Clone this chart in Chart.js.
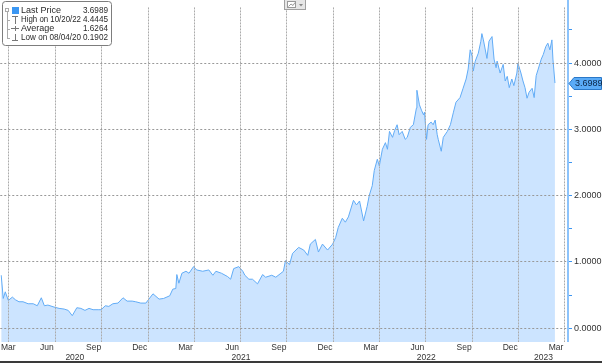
<!DOCTYPE html>
<html>
<head>
<meta charset="utf-8">
<script src="https://cdn.jsdelivr.net/npm/chart.js@4/dist/chart.umd.min.js"></script>
<style>
  html, body { margin: 0; padding: 0; background: #fff; }
</style>
</head>
<body>
<canvas id="chart" width="602" height="363"></canvas>
<script>
// --- Data ---
const dates = [
  '2020-03-17','2020-03-21','2020-03-25','2020-03-31','2020-04-08','2020-04-14','2020-04-21','2020-04-29',
  '2020-05-09','2020-05-19','2020-05-27','2020-06-04','2020-06-10','2020-06-17','2020-06-29','2020-07-09',
  '2020-07-19','2020-07-27','2020-08-04','2020-08-13','2020-08-21','2020-08-29','2020-09-06','2020-09-14',
  '2020-09-24','2020-09-30','2020-10-08','2020-10-15','2020-10-23','2020-11-02','2020-11-12','2020-11-20',
  '2020-11-30','2020-12-07','2020-12-17','2020-12-27','2021-01-02','2021-01-10','2021-01-22','2021-01-31',
  '2021-02-12','2021-02-18','2021-02-24','2021-02-26','2021-03-02','2021-03-08','2021-03-16','2021-03-22',
  '2021-03-31','2021-04-06','2021-04-18','2021-04-30','2021-05-08','2021-05-14','2021-05-25','2021-06-06',
  '2021-06-12','2021-06-18','2021-06-28','2021-07-06','2021-07-10','2021-07-18','2021-07-25','2021-08-04',
  '2021-08-14','2021-08-20','2021-09-01','2021-09-09','2021-09-19','2021-09-24','2021-09-28','2021-10-06',
  '2021-10-12','2021-10-24','2021-11-03','2021-11-11','2021-11-16','2021-11-26','2021-12-02','2021-12-10',
  '2021-12-20','2021-12-30','2022-01-05','2022-01-10','2022-01-18','2022-01-24','2022-01-30','2022-02-09',
  '2022-02-15','2022-02-21','2022-03-01','2022-03-08','2022-03-12','2022-03-18','2022-03-22','2022-03-28',
  '2022-04-01','2022-04-07','2022-04-13','2022-04-17','2022-04-21','2022-04-27','2022-05-01','2022-05-06',
  '2022-05-10','2022-05-16','2022-05-22','2022-05-26','2022-06-01','2022-06-07','2022-06-13','2022-06-14',
  '2022-06-19','2022-06-23','2022-06-27','2022-06-29','2022-07-03','2022-07-06','2022-07-12','2022-07-16',
  '2022-07-20','2022-07-24','2022-07-26','2022-08-01','2022-08-05','2022-08-13','2022-08-19','2022-08-25',
  '2022-08-30','2022-09-07','2022-09-13','2022-09-19','2022-09-23','2022-09-27','2022-10-01','2022-10-03',
  '2022-10-07','2022-10-13','2022-10-18','2022-10-20','2022-10-23','2022-10-30','2022-11-03','2022-11-09',
  '2022-11-13','2022-11-17','2022-11-19','2022-11-25','2022-12-01','2022-12-05','2022-12-09','2022-12-13',
  '2022-12-18','2022-12-22','2022-12-28','2022-12-30','2023-01-05','2023-01-09','2023-01-13','2023-01-17',
  '2023-01-21','2023-01-27','2023-01-31','2023-02-04','2023-02-08','2023-02-14','2023-02-18','2023-02-23',
  '2023-02-27','2023-03-03','2023-03-07','2023-03-09','2023-03-13'
];
const values = [
  0.80,0.45,0.55,0.42,0.47,0.43,0.40,0.40,
  0.37,0.37,0.34,0.46,0.34,0.35,0.32,0.30,
  0.29,0.27,0.19,0.31,0.30,0.27,0.30,0.28,
  0.28,0.28,0.34,0.33,0.37,0.38,0.46,0.41,
  0.41,0.40,0.38,0.38,0.44,0.52,0.44,0.45,
  0.49,0.59,0.60,0.81,0.68,0.83,0.86,0.83,
  0.93,0.88,0.86,0.88,0.80,0.86,0.83,0.78,
  0.74,0.90,0.93,0.86,0.80,0.74,0.74,0.67,
  0.81,0.77,0.80,0.77,0.83,0.86,1.02,0.96,
  1.13,1.22,1.18,1.10,1.27,1.34,1.15,1.27,
  1.18,1.27,1.37,1.52,1.66,1.60,1.68,1.93,
  1.86,1.92,1.62,1.84,2.00,2.15,2.38,2.55,
  2.45,2.70,2.80,2.70,2.97,2.88,2.98,3.07,
  2.92,2.97,2.85,2.88,3.03,3.07,3.32,3.59,
  3.37,3.29,3.22,3.26,2.85,3.07,3.11,3.07,
  3.14,2.92,2.85,2.67,2.88,2.97,3.07,3.26,
  3.41,3.48,3.62,3.76,3.91,4.20,4.10,3.88,
  4.03,4.15,4.33,4.4445,4.35,4.07,4.33,4.40,
  4.06,3.93,4.03,3.85,3.98,3.73,3.80,3.63,
  3.76,3.66,3.85,4.00,3.85,3.73,3.63,3.47,
  3.56,3.62,3.48,3.81,3.91,4.06,4.13,4.25,
  4.30,4.20,4.35,4.06,3.6989
];

// axis marks
const gridDates = ['2020-04-01','2020-07-01','2020-10-01','2021-01-01','2021-04-01','2021-07-01','2021-10-01',
  '2022-01-01','2022-04-01','2022-07-01','2022-10-01','2023-01-01','2023-04-01'];
const monthLabels = ['Mar','Jun','Sep','Dec','Mar','Jun','Sep','Dec','Mar','Jun','Sep','Dec','Mar'];
const monthLabelDates = ['2020-03-15','2020-06-15','2020-09-15','2020-12-15','2021-03-15','2021-06-15','2021-09-15',
  '2021-12-15','2022-03-15','2022-06-15','2022-09-15','2022-12-15','2023-03-15'];
const yearLabels = ['2020','2021','2022','2023'];
const yTicks = [0, 0.5, 1, 1.5, 2, 2.5, 3, 3.5, 4, 4.5];

const legendLabels = ['Last Price', 'High on 10/20/22', 'Average', 'Low on 08/04/20'];
const legendValues = ['3.6989', '4.4445', '1.6264', '0.1902'];

// plot area starts 1px left of the canvas so its left edge stays hidden
const X_MIN = 14.1, X_MAX = 1132.7;
const Y_MIN = -0.207, Y_MAX = 4.84;
const FONT = 'Liberation Sans';
const TXT = '#333';

const day0 = Date.UTC(2020, 2, 1);
const dayOf = (s) => (Date.parse(s) - day0) / 864e5;

// year label centred on the visible part of each year
function yearCenter(y){
  const a = Math.max(dayOf(y + '-01-01'), 16.1);
  const b = Math.min(dayOf((+y + 1) + '-01-01'), X_MAX);
  return (a + b) / 2;
}

// --- Overlays: legend box, top icon, last price tag, axis line, bottom rule ---
const overlays = {
  id: 'overlays',
  afterDraw(chart){
    const ctx = chart.ctx;
    const ys = chart.scales.y;
    const area = chart.chartArea;
    ctx.save();

    // right axis line
    ctx.fillStyle = '#8cc3fb';
    ctx.fillRect(area.right - 1, 0, 2, area.bottom);

    // legend box
    ctx.fillStyle = '#fff';
    ctx.strokeStyle = '#7d7d7d';
    ctx.lineWidth = 1;
    ctx.beginPath();
    ctx.roundRect(2.5, 1.5, 109, 44, 3);
    ctx.fill(); ctx.stroke();

    // tree
    ctx.strokeStyle = '#aaa';
    ctx.strokeRect(5.5, 8.5, 3, 3);
    ctx.beginPath();
    ctx.moveTo(7.5, 12); ctx.lineTo(7.5, 39);
    [20, 29, 38].forEach(y => { ctx.moveTo(7.5, y + 0.5); ctx.lineTo(10, y + 0.5); });
    ctx.stroke();

    // icons
    ctx.fillStyle = '#3b97f3';
    ctx.fillRect(12, 7, 7, 7);
    ctx.strokeStyle = '#777';
    ctx.beginPath();
    ctx.moveTo(12, 16.5); ctx.lineTo(18, 16.5); ctx.moveTo(15.5, 16.5); ctx.lineTo(15.5, 24);
    ctx.moveTo(11, 28.5); ctx.lineTo(19, 28.5); ctx.moveTo(15.5, 26); ctx.lineTo(15.5, 31);
    ctx.moveTo(15.5, 34); ctx.lineTo(15.5, 40.5); ctx.moveTo(12, 40.5); ctx.lineTo(18, 40.5);
    ctx.stroke();

    ctx.font = '9px "' + FONT + '"';
    ctx.fillStyle = '#2a2a2a';
    ctx.textBaseline = 'middle';
    const rowY = [11, 20, 29, 38];
    legendLabels.forEach((t, i) => {
      ctx.textAlign = 'left';
      ctx.fillText(t, 21, rowY[i], 60);
      ctx.textAlign = 'right';
      ctx.fillText(legendValues[i], 108, rowY[i], 25);
    });

    // small chart-type button at top
    ctx.fillStyle = '#e6e6e6';
    ctx.strokeStyle = '#a0a0a0';
    ctx.fillRect(284, 0, 22, 10);
    ctx.strokeRect(284.5, -0.5, 21, 10);
    ctx.fillStyle = '#fff';
    ctx.fillRect(287, 1, 9, 7);
    ctx.strokeStyle = '#999';
    ctx.strokeRect(287.5, 1.5, 8, 6);
    ctx.beginPath();
    ctx.moveTo(288.5, 6.5); ctx.lineTo(291, 4); ctx.lineTo(293, 5.5); ctx.lineTo(295, 2.5);
    ctx.stroke();
    ctx.fillStyle = '#888';
    ctx.beginPath();
    ctx.moveTo(299, 4); ctx.lineTo(303, 4); ctx.lineTo(301, 6.5); ctx.closePath(); ctx.fill();

    // last price tag
    const last = values[values.length - 1];
    const py = Math.round(ys.getPixelForValue(last)) + 0.5;
    ctx.fillStyle = '#5aabf7';
    ctx.strokeStyle = '#2a78c8';
    ctx.beginPath();
    ctx.moveTo(569, py);
    ctx.lineTo(574, py - 6);
    ctx.lineTo(601.5, py - 6);
    ctx.lineTo(601.5, py + 6);
    ctx.lineTo(574, py + 6);
    ctx.closePath();
    ctx.fill(); ctx.stroke();
    ctx.fillStyle = '#0b2545';
    ctx.font = '9px "' + FONT + '"';
    ctx.textAlign = 'left';
    ctx.fillText(last.toFixed(4), 575, py + 0.5);

    // bottom rule
    ctx.fillStyle = '#3a3a3a';
    ctx.fillRect(0, 361, 602, 2);
    ctx.restore();
  }
};

new Chart(document.getElementById('chart'), {
  type: 'line',
  data: {
    datasets: [{
      data: dates.map((d, i) => ({ x: dayOf(d), y: values[i] })),
      borderColor: '#62acf6',
      borderWidth: 1,
      backgroundColor: '#cce4ff',
      fill: 'start',
      pointRadius: 0,
      tension: 0,
      clip: 0
    }]
  },
  options: {
    responsive: false,
    animation: false,
    devicePixelRatio: 1,
    layout: { padding: { left: -1, right: 0, top: 0, bottom: 0 } },
    plugins: { legend: { display: false }, tooltip: { enabled: false } },
    scales: {
      x: {
        type: 'linear', position: 'bottom', min: X_MIN, max: X_MAX, weight: 0,
        afterBuildTicks: (s) => { s.ticks = gridDates.map(d => ({ value: dayOf(d) })); },
        afterFit: (s) => { s.height = 0; },
        ticks: { display: false },
        grid: { z: 1, color: '#ababab', lineWidth: 1, drawTicks: false },
        border: { display: false, dash: [2, 1] }
      },
      xm: {
        type: 'linear', position: 'bottom', min: X_MIN, max: X_MAX, weight: 1,
        afterBuildTicks: (s) => { s.ticks = monthLabelDates.map(d => ({ value: Math.max(dayOf(d), 30) })); },
        afterFit: (s) => { s.height = 11; },
        ticks: {
          autoSkip: false, maxRotation: 0, padding: 1, color: TXT,
          font: { family: FONT, size: 8.5 },
          callback: (v, i) => monthLabels[i]
        },
        grid: { display: false, drawTicks: false },
        border: { display: false }
      },
      xy: {
        type: 'linear', position: 'bottom', min: X_MIN, max: X_MAX, weight: 2,
        afterBuildTicks: (s) => { s.ticks = yearLabels.map(y => ({ value: yearCenter(y) })); },
        afterFit: (s) => { s.height = 10; },
        ticks: {
          autoSkip: false, maxRotation: 0, padding: 0, color: TXT,
          font: { family: FONT, size: 8.5 },
          callback: (v, i) => yearLabels[i]
        },
        grid: { display: false, drawTicks: false },
        border: { display: false }
      },
      y: {
        position: 'right', min: Y_MIN, max: Y_MAX,
        afterBuildTicks: (s) => { s.ticks = yTicks.map(v => ({ value: v })); },
        afterFit: (s) => { s.width = 34; },
        ticks: {
          padding: 2, color: TXT,
          font: { family: FONT, size: 9 },
          callback: (v) => Number.isInteger(v) ? v.toFixed(4) : ''
        },
        grid: {
          z: 1,
          color: (c) => (c.tick && Number.isInteger(c.tick.value)) ? '#999999' : 'rgba(0,0,0,0)',
          tickColor: '#3d95f0',
          tickLength: 4
        },
        border: { display: false, dash: [2, 2] }
      }
    }
  },
  plugins: [overlays]
});
</script>
</body>
</html>
